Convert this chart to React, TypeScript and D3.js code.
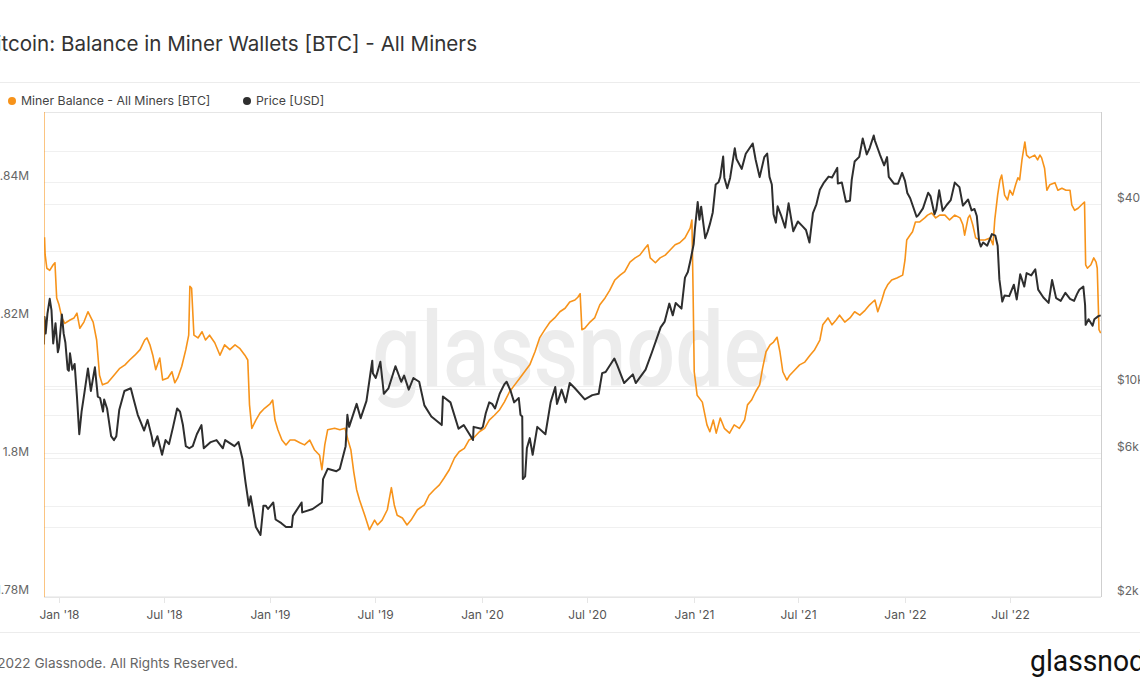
import React from 'react';
import * as d3 from 'd3';

// Miner balance, thousands of BTC
const balance: [string, number][] = [
  ['2017-12-07', 1832.0], ['2017-12-08', 1829.5], ['2017-12-11', 1827.5], ['2017-12-16', 1827.2], ['2017-12-22', 1828.0],
  ['2017-12-25', 1828.3], ['2017-12-28', 1823.2], ['2018-01-01', 1822.2], ['2018-01-06', 1820.3], ['2018-01-11', 1819.5],
  ['2018-01-20', 1820.0], ['2018-01-27', 1820.3], ['2018-02-01', 1821.0], ['2018-02-06', 1818.8], ['2018-02-13', 1819.7],
  ['2018-02-20', 1821.2], ['2018-03-01', 1819.7], ['2018-03-07', 1817.1], ['2018-03-12', 1812.0], ['2018-03-17', 1810.6],
  ['2018-03-26', 1810.9], ['2018-04-06', 1812.0], ['2018-04-16', 1813.0], ['2018-04-25', 1813.5], ['2018-05-03', 1814.2],
  ['2018-05-12', 1814.9], ['2018-05-21', 1815.7], ['2018-05-29', 1817.1], ['2018-06-02', 1817.4], ['2018-06-07', 1816.4],
  ['2018-06-12', 1814.9], ['2018-06-17', 1812.8], ['2018-06-24', 1814.5], ['2018-06-29', 1811.3], ['2018-07-08', 1811.6],
  ['2018-07-15', 1812.5], ['2018-07-20', 1810.9], ['2018-07-25', 1811.6], ['2018-08-01', 1813.3], ['2018-08-08', 1815.7],
  ['2018-08-13', 1817.8], ['2018-08-15', 1824.9], ['2018-08-18', 1824.6], ['2018-08-22', 1817.8], ['2018-08-29', 1817.4],
  ['2018-09-05', 1818.3], ['2018-09-11', 1817.1], ['2018-09-18', 1817.8], ['2018-09-27', 1816.7], ['2018-10-06', 1814.9],
  ['2018-10-14', 1816.4], ['2018-10-23', 1815.7], ['2018-11-01', 1816.4], ['2018-11-09', 1815.9], ['2018-11-18', 1814.9],
  ['2018-11-23', 1814.2], ['2018-11-26', 1807.7], ['2018-11-30', 1804.3], ['2018-12-07', 1805.5], ['2018-12-14', 1806.5],
  ['2018-12-22', 1807.2], ['2018-12-31', 1807.8], ['2019-01-05', 1808.4], ['2019-01-09', 1805.5], ['2019-01-14', 1804.1],
  ['2019-01-21', 1802.6], ['2019-01-28', 1801.9], ['2019-02-04', 1802.6], ['2019-02-12', 1802.6], ['2019-02-21', 1802.2],
  ['2019-03-01', 1801.9], ['2019-03-10', 1802.6], ['2019-03-18', 1801.2], ['2019-03-27', 1800.4], ['2019-03-31', 1798.3],
  ['2019-04-05', 1801.9], ['2019-04-10', 1804.1], ['2019-04-22', 1804.3], ['2019-05-01', 1804.1], ['2019-05-10', 1804.3],
  ['2019-05-15', 1802.6], ['2019-05-20', 1801.2], ['2019-05-25', 1798.0], ['2019-05-30', 1795.4], ['2019-06-04', 1793.9],
  ['2019-06-13', 1791.7], ['2019-06-21', 1789.6], ['2019-06-30', 1791.0], ['2019-07-05', 1790.3], ['2019-07-13', 1791.0],
  ['2019-07-22', 1792.5], ['2019-07-25', 1793.9], ['2019-07-29', 1795.7], ['2019-08-03', 1793.2], ['2019-08-08', 1791.7],
  ['2019-08-17', 1791.3], ['2019-08-25', 1790.3], ['2019-09-01', 1791.0], ['2019-09-12', 1792.5], ['2019-09-24', 1793.2],
  ['2019-10-02', 1794.6], ['2019-10-11', 1795.4], ['2019-10-20', 1796.1], ['2019-10-28', 1797.1], ['2019-11-06', 1798.3],
  ['2019-11-15', 1800.0], ['2019-11-23', 1800.9], ['2019-12-02', 1801.4], ['2019-12-10', 1802.6], ['2019-12-19', 1803.0],
  ['2019-12-28', 1803.8], ['2020-01-06', 1804.3], ['2020-01-14', 1805.5], ['2020-01-23', 1806.2], ['2020-02-01', 1807.0],
  ['2020-02-09', 1808.1], ['2020-02-18', 1809.6], ['2020-02-27', 1810.6], ['2020-03-07', 1811.6], ['2020-03-15', 1812.5],
  ['2020-03-24', 1813.5], ['2020-04-02', 1815.4], ['2020-04-10', 1817.4], ['2020-04-19', 1818.6], ['2020-04-28', 1819.7],
  ['2020-05-06', 1820.3], ['2020-05-15', 1821.2], ['2020-05-24', 1821.7], ['2020-06-01', 1822.6], ['2020-06-10', 1822.9],
  ['2020-06-15', 1823.3], ['2020-06-19', 1823.8], ['2020-06-22', 1818.6], ['2020-06-27', 1818.8], ['2020-07-06', 1819.7],
  ['2020-07-14', 1820.3], ['2020-07-23', 1822.2], ['2020-08-01', 1823.2], ['2020-08-09', 1824.3], ['2020-08-18', 1825.8],
  ['2020-08-27', 1826.5], ['2020-09-04', 1827.0], ['2020-09-13', 1828.4], ['2020-09-22', 1829.0], ['2020-09-30', 1829.4],
  ['2020-10-09', 1830.4], ['2020-10-14', 1830.9], ['2020-10-18', 1829.0], ['2020-10-27', 1828.3], ['2020-11-04', 1829.0],
  ['2020-11-13', 1829.4], ['2020-11-21', 1830.1], ['2020-11-30', 1830.9], ['2020-12-08', 1831.2], ['2020-12-17', 1831.9],
  ['2020-12-26', 1833.3], ['2020-12-29', 1834.5], ['2020-12-31', 1824.3], ['2021-01-02', 1812.5], ['2021-01-07', 1809.1],
  ['2021-01-16', 1808.1], ['2021-01-24', 1804.8], ['2021-01-29', 1803.8], ['2021-02-04', 1805.5], ['2021-02-09', 1803.6],
  ['2021-02-16', 1805.8], ['2021-02-23', 1804.3], ['2021-03-04', 1803.6], ['2021-03-12', 1804.8], ['2021-03-21', 1804.3],
  ['2021-03-30', 1805.5], ['2021-04-04', 1807.7], ['2021-04-11', 1808.4], ['2021-04-18', 1809.6], ['2021-04-25', 1810.6],
  ['2021-04-30', 1813.0], ['2021-05-06', 1815.4], ['2021-05-13', 1816.4], ['2021-05-19', 1816.8], ['2021-05-25', 1817.5],
  ['2021-05-30', 1815.4], ['2021-06-04', 1812.5], ['2021-06-11', 1811.3], ['2021-06-16', 1812.0], ['2021-06-25', 1812.8],
  ['2021-07-03', 1813.5], ['2021-07-12', 1813.9], ['2021-07-21', 1814.9], ['2021-07-29', 1815.7], ['2021-08-07', 1817.1],
  ['2021-08-12', 1819.3], ['2021-08-21', 1820.3], ['2021-08-28', 1819.3], ['2021-09-04', 1820.0], ['2021-09-10', 1820.7],
  ['2021-09-19', 1819.7], ['2021-09-28', 1820.3], ['2021-10-06', 1821.2], ['2021-10-15', 1820.7], ['2021-10-24', 1821.4],
  ['2021-11-01', 1822.2], ['2021-11-10', 1822.9], ['2021-11-15', 1821.2], ['2021-11-22', 1822.9], ['2021-11-27', 1824.3],
  ['2021-12-02', 1825.1], ['2021-12-09', 1825.8], ['2021-12-18', 1826.1], ['2021-12-28', 1826.5], ['2022-01-01', 1828.7],
  ['2022-01-04', 1831.6], ['2022-01-09', 1832.2], ['2022-01-14', 1832.8], ['2022-01-19', 1834.2], ['2022-01-26', 1834.2],
  ['2022-02-04', 1834.8], ['2022-02-09', 1835.2], ['2022-02-16', 1835.5], ['2022-02-23', 1834.8], ['2022-03-02', 1835.2],
  ['2022-03-11', 1835.2], ['2022-03-19', 1834.5], ['2022-03-28', 1835.2], ['2022-04-06', 1834.8], ['2022-04-11', 1833.8],
  ['2022-04-14', 1832.3], ['2022-04-20', 1834.8], ['2022-04-23', 1835.2], ['2022-04-28', 1833.8], ['2022-05-03', 1831.9],
  ['2022-05-10', 1831.6], ['2022-05-19', 1831.6], ['2022-05-28', 1831.9], ['2022-06-02', 1830.9], ['2022-06-05', 1834.5],
  ['2022-06-10', 1838.1], ['2022-06-14', 1840.3], ['2022-06-17', 1841.0], ['2022-06-22', 1838.1], ['2022-06-27', 1837.4],
  ['2022-07-01', 1838.8], ['2022-07-06', 1838.1], ['2022-07-11', 1839.6], ['2022-07-15', 1840.6], ['2022-07-18', 1840.3],
  ['2022-07-22', 1843.2], ['2022-07-27', 1845.8], ['2022-07-30', 1843.9], ['2022-08-04', 1843.5], ['2022-08-13', 1843.9],
  ['2022-08-18', 1843.2], ['2022-08-22', 1843.9], ['2022-08-25', 1843.5], ['2022-08-30', 1842.0], ['2022-09-03', 1838.8],
  ['2022-09-08', 1839.6], ['2022-09-17', 1839.9], ['2022-09-22', 1838.8], ['2022-09-29', 1839.1], ['2022-10-06', 1838.8],
  ['2022-10-13', 1838.8], ['2022-10-16', 1836.7], ['2022-10-21', 1835.9], ['2022-10-27', 1836.2], ['2022-11-02', 1836.7],
  ['2022-11-07', 1837.1], ['2022-11-09', 1828.0], ['2022-11-12', 1827.5], ['2022-11-18', 1828.0], ['2022-11-23', 1829.0],
  ['2022-11-27', 1828.4], ['2022-11-29', 1827.5], ['2022-12-02', 1818.6], ['2022-12-05', 1818.1],
];

// Price, USD
const price: [string, number][] = [
  ['2017-12-06', 13700], ['2017-12-07', 16900], ['2017-12-09', 14900], ['2017-12-12', 17300], ['2017-12-16', 19400],
  ['2017-12-19', 17800], ['2017-12-22', 13800], ['2017-12-26', 16100], ['2017-12-30', 12900], ['2018-01-01', 13400],
  ['2018-01-06', 17200], ['2018-01-09', 14900], ['2018-01-12', 13900], ['2018-01-16', 11300], ['2018-01-18', 11200],
  ['2018-01-20', 12800], ['2018-01-24', 11300], ['2018-01-28', 11800], ['2018-02-01', 9200], ['2018-02-05', 6900],
  ['2018-02-09', 8200], ['2018-02-14', 9500], ['2018-02-20', 11400], ['2018-02-25', 9600], ['2018-03-04', 11500],
  ['2018-03-09', 9200], ['2018-03-13', 9100], ['2018-03-18', 8200], ['2018-03-20', 9000], ['2018-03-25', 8400],
  ['2018-04-01', 6800], ['2018-04-06', 6600], ['2018-04-10', 6800], ['2018-04-15', 8300], ['2018-04-24', 9600],
  ['2018-05-05', 9800], ['2018-05-10', 9000], ['2018-05-17', 8000], ['2018-05-23', 7500], ['2018-05-28', 7100],
  ['2018-06-03', 7700], ['2018-06-10', 6800], ['2018-06-13', 6300], ['2018-06-20', 6800], ['2018-06-28', 5900],
  ['2018-07-04', 6600], ['2018-07-10', 6400], ['2018-07-17', 7300], ['2018-07-24', 8400], ['2018-07-29', 8200],
  ['2018-08-03', 7400], ['2018-08-08', 6300], ['2018-08-14', 6200], ['2018-08-20', 6300], ['2018-08-27', 6900],
  ['2018-09-04', 7400], ['2018-09-08', 6200], ['2018-09-20', 6500], ['2018-09-30', 6600], ['2018-10-11', 6200],
  ['2018-10-15', 6600], ['2018-10-31', 6300], ['2018-11-07', 6500], ['2018-11-14', 5700], ['2018-11-19', 4800],
  ['2018-11-25', 4000], ['2018-11-28', 4300], ['2018-12-07', 3400], ['2018-12-15', 3200], ['2018-12-20', 4000],
  ['2018-12-24', 4000], ['2018-12-28', 3900], ['2019-01-06', 4100], ['2019-01-10', 3600], ['2019-01-20', 3500],
  ['2019-01-28', 3400], ['2019-02-07', 3400], ['2019-02-09', 3700], ['2019-02-24', 4100], ['2019-02-25', 3800],
  ['2019-03-15', 3900], ['2019-03-31', 4100], ['2019-04-02', 4900], ['2019-04-10', 5300], ['2019-04-25', 5200],
  ['2019-05-01', 5300], ['2019-05-11', 6300], ['2019-05-14', 8000], ['2019-05-17', 7300], ['2019-05-30', 8700],
  ['2019-06-06', 7800], ['2019-06-16', 8900], ['2019-06-22', 10700], ['2019-06-26', 12100], ['2019-06-27', 11000],
  ['2019-07-02', 10600], ['2019-07-10', 12000], ['2019-07-16', 9400], ['2019-07-24', 9800], ['2019-08-05', 11600],
  ['2019-08-15', 10300], ['2019-08-20', 10800], ['2019-08-28', 9700], ['2019-09-05', 10600], ['2019-09-15', 10300],
  ['2019-09-24', 8600], ['2019-10-06', 7900], ['2019-10-24', 7400], ['2019-10-26', 9200], ['2019-11-08', 8800],
  ['2019-11-22', 7200], ['2019-12-01', 7400], ['2019-12-17', 6600], ['2019-12-18', 7300], ['2019-12-31', 7200],
  ['2020-01-03', 7300], ['2020-01-08', 8100], ['2020-01-14', 8800], ['2020-01-19', 8700], ['2020-01-24', 8400],
  ['2020-02-01', 9400], ['2020-02-09', 10100], ['2020-02-13', 10300], ['2020-02-20', 9600], ['2020-02-26', 8800],
  ['2020-03-05', 9100], ['2020-03-08', 8000], ['2020-03-11', 7900], ['2020-03-12', 4900], ['2020-03-16', 5000],
  ['2020-03-19', 6200], ['2020-03-24', 6700], ['2020-03-29', 5900], ['2020-04-06', 7300], ['2020-04-20', 6900],
  ['2020-04-29', 8800], ['2020-05-07', 9900], ['2020-05-10', 8700], ['2020-05-18', 9700], ['2020-05-25', 8800],
  ['2020-06-01', 10200], ['2020-06-10', 9800], ['2020-06-27', 9000], ['2020-07-10', 9300], ['2020-07-21', 9400],
  ['2020-07-27', 11000], ['2020-08-02', 11100], ['2020-08-17', 12300], ['2020-08-22', 11700], ['2020-09-03', 10200],
  ['2020-09-18', 10900], ['2020-09-23', 10200], ['2020-10-10', 11300], ['2020-10-21', 12900], ['2020-11-05', 15600],
  ['2020-11-12', 16300], ['2020-11-20', 18700], ['2020-11-26', 17100], ['2020-12-01', 18800], ['2020-12-11', 18000],
  ['2020-12-17', 22800], ['2020-12-22', 23800], ['2020-12-27', 26300], ['2021-01-01', 29400], ['2021-01-03', 32800],
  ['2021-01-08', 40600], ['2021-01-11', 35500], ['2021-01-14', 39200], ['2021-01-21', 30800], ['2021-01-25', 32300],
  ['2021-01-29', 34300], ['2021-02-03', 37500], ['2021-02-08', 46400], ['2021-02-13', 47200], ['2021-02-16', 49200],
  ['2021-02-21', 57500], ['2021-02-23', 48900], ['2021-02-28', 45100], ['2021-03-05', 48800], ['2021-03-13', 61200],
  ['2021-03-16', 56400], ['2021-03-25', 52300], ['2021-04-01', 58700], ['2021-04-13', 63500], ['2021-04-18', 56200],
  ['2021-04-25', 49100], ['2021-05-03', 57200], ['2021-05-08', 58800], ['2021-05-12', 49200], ['2021-05-16', 46400],
  ['2021-05-19', 37000], ['2021-05-23', 34700], ['2021-05-26', 39300], ['2021-06-01', 36700], ['2021-06-08', 33400],
  ['2021-06-14', 40200], ['2021-06-22', 32500], ['2021-06-30', 35000], ['2021-07-07', 33900], ['2021-07-14', 32800],
  ['2021-07-20', 29800], ['2021-07-26', 37300], ['2021-08-01', 39900], ['2021-08-07', 44600], ['2021-08-14', 47100],
  ['2021-08-22', 49300], ['2021-08-28', 49000], ['2021-09-06', 52700], ['2021-09-07', 46800], ['2021-09-14', 47100],
  ['2021-09-21', 40700], ['2021-09-28', 41000], ['2021-10-01', 48100], ['2021-10-06', 55300], ['2021-10-14', 57300],
  ['2021-10-20', 66000], ['2021-10-27', 58400], ['2021-11-01', 61300], ['2021-11-08', 67500], ['2021-11-10', 64900],
  ['2021-11-16', 60300], ['2021-11-19', 58100], ['2021-11-26', 53700], ['2021-12-01', 57200], ['2021-12-04', 49200],
  ['2021-12-13', 46700], ['2021-12-20', 46700], ['2021-12-27', 50700], ['2022-01-01', 47700], ['2022-01-05', 43500],
  ['2022-01-10', 41800], ['2022-01-21', 36300], ['2022-01-24', 36700], ['2022-02-01', 38700], ['2022-02-10', 43600],
  ['2022-02-14', 42500], ['2022-02-21', 37000], ['2022-02-24', 38300], ['2022-03-01', 44400], ['2022-03-07', 38000],
  ['2022-03-14', 39700], ['2022-03-21', 41200], ['2022-03-28', 47100], ['2022-04-05', 45500], ['2022-04-11', 39500],
  ['2022-04-20', 41400], ['2022-04-26', 38100], ['2022-05-01', 38500], ['2022-05-05', 36500], ['2022-05-09', 30100],
  ['2022-05-12', 28900], ['2022-05-16', 29800], ['2022-05-23', 29100], ['2022-05-31', 31800], ['2022-06-06', 31400],
  ['2022-06-10', 29100], ['2022-06-13', 22500], ['2022-06-18', 19000], ['2022-06-22', 19900], ['2022-06-30', 19800],
  ['2022-07-08', 21600], ['2022-07-13', 19300], ['2022-07-19', 23400], ['2022-07-26', 21300], ['2022-07-30', 23600],
  ['2022-08-07', 23200], ['2022-08-14', 24300], ['2022-08-19', 20800], ['2022-08-28', 19600], ['2022-09-06', 18800],
  ['2022-09-12', 22400], ['2022-09-19', 19500], ['2022-09-27', 19100], ['2022-10-05', 20300], ['2022-10-13', 19400],
  ['2022-10-20', 19100], ['2022-10-25', 20100], ['2022-10-29', 20800], ['2022-11-05', 21300], ['2022-11-08', 18500],
  ['2022-11-09', 15900], ['2022-11-14', 16600], ['2022-11-21', 15800], ['2022-11-24', 16600], ['2022-12-01', 17000],
  ['2022-12-05', 17100],
];

const xTickDates = ['2018-01-01', '2018-07-01', '2019-01-01', '2019-07-01', '2020-01-01', '2020-07-01', '2021-01-01', '2021-07-01', '2022-01-01', '2022-07-01'];
const xTickLabels = ["Jan '18", "Jul '18", "Jan '19", "Jul '19", "Jan '20", "Jul '20", "Jan '21", "Jul '21", "Jan '22", "Jul '22"];
const leftGrid = [1780, 1790, 1800, 1810, 1820, 1830, 1840];
const leftLabelTicks = [1780, 1800, 1820, 1840];
const leftLabels = ['1.78M', '1.8M', '1.82M', '1.84M'];
const rightGrid = [2000, 4000, 6000, 8000, 10000, 20000, 40000, 60000];
const rightLabelTicks = [2000, 6000, 10000, 40000];
const rightLabels = ['$2k', '$6k', '$10k', '$40k'];

const ORANGE = '#f7931a';
const DARK = '#2e2e2e';
const FONT = 'Inter, "Open Sans", sans-serif';
const LOGO_FONT = 'Roboto, Inter, sans-serif';

const parse = d3.utcParse('%Y-%m-%d');

export default function App() {
  const W = 1140, H = 694;
  const P = { left: 44, right: 1101, top: 112, bottom: 597 };
  const x = d3.scaleUtc().domain([parse('2018-01-01')!, parse('2022-01-01')!]).range([59, 905]);
  const yL = d3.scaleLinear().domain([1780, 1840]).range([596, 182]);
  const yR = d3.scaleLog().domain([2000, 40000]).range([596.5, 204]);

  const balLine = d3.line<[string, number]>().x(d => x(parse(d[0])!)).y(d => yL(d[1]));
  const priceLine = d3.line<[string, number]>().x(d => x(parse(d[0])!)).y(d => yR(d[1]));

  return (
    <svg width={W} height={H} style={{ position: 'absolute', left: 0, top: 0, background: '#fff' }} fontFamily={FONT}>
      <defs>
        <clipPath id="plotClip">
          <rect x={P.left} y={P.top} width={P.right - P.left} height={P.bottom - P.top} />
        </clipPath>
      </defs>
      <rect x={0} y={0} width={W} height={H} fill="#fff" />
      {/* title */}
      <text x={477} y={51} textAnchor="end" fontSize={20.6} fill="#333">Bitcoin: Balance in Miner Wallets [BTC] - All Miners</text>
      <line x1={0} x2={W} y1={82.5} y2={82.5} stroke="#ececec" />
      {/* legend */}
      <circle cx={12} cy={101} r={4} fill={ORANGE} />
      <text x={21} y={105} fontSize={12.3} fill="#444">Miner Balance - All Miners [BTC]</text>
      <circle cx={247} cy={101} r={4} fill={DARK} />
      <text x={256} y={105} fontSize={12.3} fill="#444">Price [USD]</text>

      {/* gridlines */}
      {leftGrid.map(v => (
        <line key={'lg' + v} x1={P.left} x2={P.right} y1={Math.round(yL(v)) + 0.5} y2={Math.round(yL(v)) + 0.5} stroke="#f0f0f0" />
      ))}
      {rightGrid.map(v => (
        <line key={'rg' + v} x1={P.left} x2={P.right} y1={Math.round(yR(v)) + 0.5} y2={Math.round(yR(v)) + 0.5} stroke="#f0f0f0" />
      ))}
      <line x1={P.left} x2={P.right} y1={P.top + 0.5} y2={P.top + 0.5} stroke="#e6e6e6" />
      <line x1={P.left} x2={P.right} y1={P.bottom + 0.5} y2={P.bottom + 0.5} stroke="#e6e6e6" />

      {/* watermark */}
      <text x={571} y={386} textAnchor="middle" fontSize={104} fill="#ececec" fontFamily={LOGO_FONT} fontWeight={500}
        textLength={398} lengthAdjust="spacingAndGlyphs">glassnode</text>

      {/* series */}
      <g clipPath="url(#plotClip)">
        <path d={balLine(balance) || ''} fill="none" stroke={ORANGE} strokeWidth={1.6} strokeLinejoin="round" />
        <path d={priceLine(price) || ''} fill="none" stroke={DARK} strokeWidth={2} strokeLinejoin="round" />
      </g>

      {/* axis lines */}
      <line x1={P.left + 0.5} x2={P.left + 0.5} y1={P.top} y2={P.bottom} stroke={ORANGE} strokeOpacity={0.55} />
      <line x1={P.right + 0.5} x2={P.right + 0.5} y1={P.top} y2={P.bottom} stroke="#cfcfcf" />

      {/* left labels */}
      {leftLabelTicks.map((v, i) => (
        <text key={'ll' + v} x={29} y={yL(v) - 6} dy="0.35em" textAnchor="end" fontSize={12} fill="#666">{leftLabels[i]}</text>
      ))}
      {/* right labels */}
      {rightLabelTicks.map((v, i) => (
        <text key={'rl' + v} x={1117} y={yR(v) - 6} dy="0.35em" textAnchor="start" fontSize={12} fill="#666">{rightLabels[i]}</text>
      ))}
      {/* x axis */}
      {xTickDates.map((d, i) => {
        const xx = Math.round(x(parse(d)!)) + 0.5;
        return (
          <g key={d}>
            <line x1={xx} x2={xx} y1={P.bottom} y2={P.bottom + 6} stroke="#e6e6e6" />
            <text x={xx} y={619} textAnchor="middle" fontSize={12} fill="#555">{xTickLabels[i]}</text>
          </g>
        );
      })}

      {/* footer */}
      <line x1={0} x2={W} y1={632.5} y2={632.5} stroke="#ececec" />
      <text x={238} y={668} textAnchor="end" fontSize={13.6} fill="#666">© 2022 Glassnode. All Rights Reserved.</text>
      <text x={1030} y={671} fontSize={30} fill="#111" fontFamily={LOGO_FONT} fontWeight={400}
        textLength={130} lengthAdjust="spacingAndGlyphs">glassnode</text>
    </svg>
  );
}
